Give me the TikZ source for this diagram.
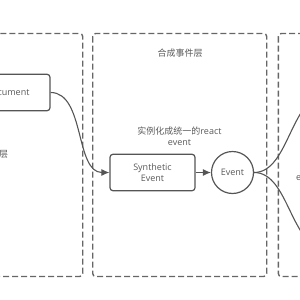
\documentclass[tikz,border=0pt]{standalone}
\usepackage{fontspec}
\setmainfont{Open Sans}
\newfontfamily\cjk{Noto Sans CJK SC}
\usetikzlibrary{arrows.meta}
\definecolor{ln}{HTML}{555555}
\definecolor{dl}{HTML}{666666}
\definecolor{tx}{HTML}{595959}
\begin{document}
\begin{tikzpicture}[x=1pt,y=-1pt,
  layerbox/.style={draw=dl, line width=1.4pt, dash pattern=on 6pt off 3pt, rounded corners=3pt},
  nodebox/.style={draw=ln, line width=1.2pt, rounded corners=3pt, minimum width=85pt, minimum height=36.5pt, text=tx, font=\fontsize{9}{11.6}\selectfont, align=center, inner sep=0pt},
  circnode/.style={draw=ln, line width=1.2pt, circle, minimum size=42pt, inner sep=0pt, text=tx, font=\fontsize{9}{11.6}\selectfont},
  lbl/.style={text=tx, font=\fontsize{9}{11.2}\selectfont, align=center, inner sep=0pt},
  conn/.style={draw=ln, line width=1.1pt},
  arr/.style={conn, -{Latex[length=8pt,width=7pt]}}]
\useasboundingbox (0,0) rectangle (300,300);
% layers
\draw[layerbox] (-91.3,33.5) rectangle (82.7,276.5);
\draw[layerbox] (92.7,33.5) rectangle (266.7,276.5);
\draw[layerbox] (278.3,33.5) rectangle (452.3,276.5);
% labels
\node[lbl] (t2) at (180,53) {\cjk 合成事件层};
\node[lbl] (t1) at (3.6,154) {\cjk 层};
\node[lbl] (inst) at (179.5,136) {{\cjk 实例化成统一的}react\\event};
\node[lbl, anchor=west] (t3) at (295.8,178) {e};
% nodes
\node[nodebox] (doc) at (7.5,92.5) {Document};
\node[nodebox] (syn) at (152.5,172.5) {Synthetic\\Event};
\node[circnode] (ev) at (232.5,172.5) {Event};
\coordinate (up) at (330,93);
\coordinate (down) at (330,251);
% connectors
\draw[arr] (doc.east) .. controls (85,92.5) and (75,172.5) .. (syn.west);
\draw[arr] (syn.east) -- (ev.west);
\draw[conn] (ev.east) .. controls (290,172.5) and (290,93) .. (up);
\draw[conn] (ev.east) .. controls (290,172.5) and (290,251) .. (down);
\end{tikzpicture}
\end{document}
